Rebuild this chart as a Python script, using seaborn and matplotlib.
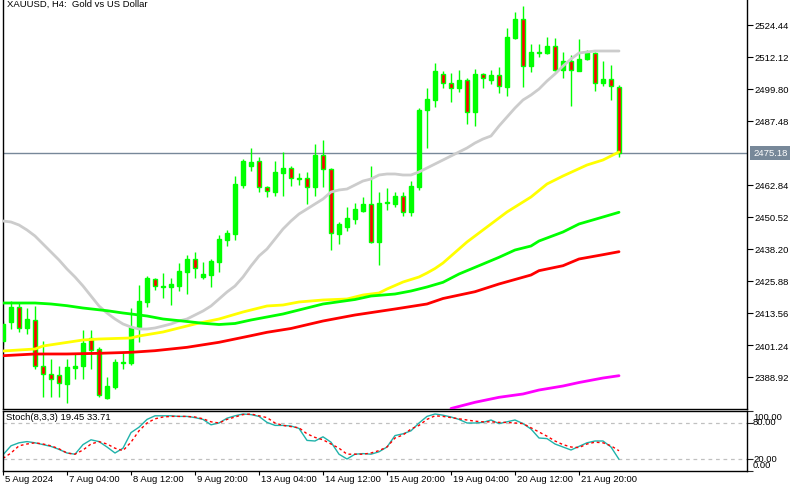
import numpy as np
import pandas as pd
import matplotlib
matplotlib.use("Agg")
import matplotlib.pyplot as plt
import matplotlib.transforms as mtransforms
import seaborn as sns

sns.set_theme(style="white")
plt.rcParams['font.family'] = ['Liberation Sans', 'DejaVu Sans']

# ---------------- data ----------------
x_labels = ["5 Aug 2024", "7 Aug 04:00", "8 Aug 12:00", "9 Aug 20:00", "13 Aug 04:00",
            "14 Aug 12:00", "15 Aug 20:00", "19 Aug 04:00", "20 Aug 12:00", "21 Aug 20:00"]

open_ = [2402.78, 2410.21, 2415.75, 2407.78, 2410.86, 2393.04, 2390.08, 2389.69, 2386.23, 2392.50,
         2393.27, 2403.82, 2399.70, 2380.84, 2384.95, 2394.19, 2394.31, 2407.67, 2417.91, 2426.65,
         2423.69, 2423.69, 2424.07, 2429.46, 2434.35, 2427.54, 2428.19, 2433.31, 2441.67, 2443.98,
         2462.96, 2470.04, 2471.89, 2461.95, 2460.26, 2467.46, 2469.27, 2465.15, 2465.42, 2461.95,
         2474.51, 2469.00, 2443.98, 2446.55, 2449.75, 2452.95, 2455.53, 2441.01, 2455.79, 2455.53,
         2458.49, 2452.56, 2461.95, 2491.83, 2495.68, 2505.46, 2501.99, 2500.19, 2503.27, 2491.06,
         2505.58, 2503.38, 2505.19, 2500.69, 2519.44, 2526.75, 2508.77, 2513.54, 2513.54, 2516.24,
         2507.12, 2510.70, 2506.85, 2511.35, 2513.54, 2501.99, 2503.65, 2500.45]
high = [2410.48, 2418.30, 2417.68, 2415.48, 2416.37, 2402.90, 2395.85, 2393.27, 2395.85, 2397.78,
        2407.13, 2407.13, 2400.47, 2388.80, 2395.85, 2398.43, 2415.48, 2424.45, 2427.69, 2427.04,
        2428.96, 2427.04, 2432.81, 2436.01, 2436.93, 2433.08, 2434.35, 2443.71, 2445.51, 2466.19,
        2472.85, 2477.09, 2473.62, 2462.57, 2472.20, 2475.43, 2470.27, 2467.46, 2467.73, 2478.63,
        2480.17, 2469.39, 2448.71, 2454.25, 2455.79, 2458.10, 2470.04, 2460.26, 2461.57, 2460.03,
        2460.03, 2464.26, 2492.49, 2500.19, 2509.81, 2506.85, 2505.96, 2507.12, 2504.04, 2507.50,
        2505.96, 2507.12, 2508.27, 2523.29, 2529.45, 2531.87, 2517.13, 2517.13, 2519.94, 2519.44,
        2514.16, 2512.89, 2519.05, 2514.93, 2514.16, 2510.46, 2509.16, 2501.34]
low = [2401.24, 2407.40, 2406.24, 2405.47, 2392.00, 2381.34, 2381.10, 2381.10, 2378.79, 2388.15,
       2388.15, 2392.00, 2381.10, 2380.45, 2384.30, 2392.00, 2393.54, 2402.39, 2415.75, 2422.53,
       2419.22, 2416.76, 2421.91, 2420.99, 2427.04, 2426.65, 2423.69, 2429.23, 2439.47, 2441.78,
       2461.57, 2468.35, 2460.03, 2458.34, 2458.72, 2458.72, 2462.34, 2462.84, 2455.53, 2458.72,
       2461.95, 2437.93, 2440.13, 2445.25, 2447.83, 2452.45, 2440.51, 2432.04, 2453.33, 2454.25,
       2450.79, 2451.02, 2461.03, 2477.09, 2492.99, 2500.19, 2494.91, 2498.65, 2486.33, 2485.56,
       2500.19, 2501.73, 2498.26, 2497.11, 2519.05, 2500.69, 2506.46, 2512.24, 2513.28, 2506.73,
       2504.15, 2493.37, 2506.54, 2510.97, 2499.15, 2500.84, 2495.57, 2473.50]
close = [2409.33, 2416.06, 2407.78, 2411.25, 2393.27, 2390.08, 2388.15, 2386.61, 2392.65, 2393.27,
         2402.01, 2399.43, 2381.99, 2385.34, 2394.58, 2394.81, 2408.05, 2418.06, 2427.04, 2423.84,
         2424.07, 2424.73, 2429.61, 2434.35, 2430.89, 2428.58, 2433.58, 2442.05, 2444.36, 2463.23,
         2472.08, 2471.81, 2461.95, 2460.41, 2467.73, 2469.39, 2465.42, 2465.54, 2461.95, 2474.51,
         2469.00, 2444.36, 2447.83, 2450.02, 2453.60, 2455.53, 2441.01, 2455.91, 2456.41, 2458.49,
         2452.56, 2462.57, 2491.72, 2495.95, 2506.73, 2501.99, 2500.30, 2503.27, 2491.06, 2505.58,
         2504.15, 2505.19, 2500.84, 2519.94, 2526.75, 2508.77, 2514.16, 2513.93, 2516.47, 2507.12,
         2510.70, 2507.12, 2511.35, 2513.54, 2501.99, 2503.65, 2500.84, 2475.18]

gray_ma = [2448.98, 2448.60, 2447.44, 2445.52, 2443.21, 2440.13, 2437.05, 2433.97, 2430.50, 2427.42,
           2423.96, 2420.10, 2416.26, 2413.56, 2411.25, 2409.33, 2408.17, 2407.40, 2407.40, 2407.79,
           2408.55, 2409.33, 2410.48, 2411.25, 2412.79, 2414.33, 2416.26, 2418.95, 2421.65, 2423.96,
           2427.42, 2431.66, 2435.51, 2438.20, 2442.05, 2445.90, 2448.98, 2451.68, 2453.60, 2455.53,
           2457.45, 2460.15, 2460.92, 2461.30, 2462.84, 2464.38, 2465.15, 2466.69, 2467.08, 2467.08,
           2466.69, 2466.69, 2467.85, 2469.39, 2470.93, 2472.47, 2474.01, 2475.55, 2477.09, 2479.01,
           2480.55, 2481.71, 2485.55, 2489.02, 2492.49, 2495.57, 2497.49, 2499.80, 2502.88, 2505.58,
           2508.65, 2511.35, 2513.66, 2514.05, 2514.43, 2514.43, 2514.43, 2514.43]

yellow_bar = [0, 4, 5, 10, 12, 16, 17, 20, 24, 27, 30, 33, 35, 37, 40, 43, 45, 47, 48, 50,
              52, 53, 54, 55, 56, 58, 60, 63, 66, 68, 70, 73, 75, 77]
yellow_ma = [2398.93, 2399.70, 2400.85, 2403.17, 2403.55, 2403.94, 2404.70, 2406.25, 2409.33, 2411.25,
             2413.95, 2416.26, 2416.64, 2417.80, 2418.57, 2418.95, 2420.49, 2421.26, 2422.80, 2425.49,
             2427.42, 2428.96, 2430.69, 2432.81, 2435.51, 2440.90, 2445.52, 2452.45, 2458.22, 2463.23,
             2466.31, 2470.54, 2472.47, 2475.55]

green_bar = [0, 4, 6, 8, 10, 13, 15, 18, 20, 23, 25, 27, 29, 31, 33, 35, 37, 40, 44, 46,
             49, 51, 53, 55, 57, 60, 62, 64, 66, 67, 70, 72, 75, 77]
green_ma = [2417.41, 2417.41, 2417.03, 2416.37, 2415.48, 2414.45, 2413.56, 2412.41, 2411.25, 2410.29,
            2409.60, 2409.13, 2409.52, 2410.87, 2412.02, 2413.18, 2414.72, 2417.03, 2418.76, 2420.10,
            2420.87, 2422.03, 2423.57, 2425.38, 2428.57, 2432.42, 2435.00, 2437.81, 2439.35, 2441.28,
            2444.75, 2447.83, 2450.52, 2452.33]

red_bar = [0, 4, 8, 12, 16, 19, 23, 27, 31, 33, 36, 40, 44, 49, 53, 55, 59, 62, 66, 67,
           70, 72, 75, 77]
red_ma = [2397.12, 2397.78, 2397.78, 2398.04, 2398.43, 2399.05, 2400.35, 2402.28, 2404.82, 2406.13,
          2407.60, 2410.48, 2412.79, 2415.10, 2417.03, 2419.14, 2421.76, 2424.73, 2428.19, 2429.85,
          2431.77, 2434.35, 2436.01, 2437.16]

magenta_bar = [56, 59, 62, 65, 67, 70, 72, 75, 77]
magenta_ma = [2376.79, 2379.18, 2381.10, 2382.38, 2383.91, 2385.45, 2386.80, 2388.53, 2389.42]

stoch_k = [27, 42, 47, 49, 47, 44, 41, 36, 30, 28, 44, 52, 49, 40, 30, 38, 64, 73, 86, 92,
           92, 92, 91, 91, 89, 86, 77, 80, 88, 92, 95, 94, 91, 81, 76, 76, 75, 71, 51, 50,
           57, 48, 28, 20, 28, 29, 28, 32, 40, 59, 62, 67, 80, 91, 95, 93, 90, 86, 80, 80,
           81, 85, 79, 82, 85, 79, 70, 55, 54, 45, 40, 35, 41, 47, 50, 50, 40, 19.45]
stoch_d = [21, 30, 42, 45, 47, 45, 42, 37, 30, 28, 35, 45, 49, 45, 38, 34, 48, 67, 80, 87,
           90, 91, 91, 91, 90, 87, 82, 80, 86, 90, 94, 95, 92, 89, 80, 76, 74, 72, 62, 56,
           52, 45, 38, 28, 28, 28, 30, 34, 40, 55, 60, 70, 76, 86, 92, 91, 89, 87, 85, 83,
           82, 82, 81, 81, 80, 79, 72, 65, 58, 50, 44, 40, 39, 45, 48, 47, 42, 33.71]

price_ticks = [2524.44, 2512.12, 2499.80, 2487.48, 2462.84, 2450.52, 2438.20, 2425.88,
               2413.56, 2401.24, 2388.92]
current_price = 2475.18
stoch_levels = [20, 80]
stoch_ticks = [0, 20, 80, 100]

# ---------------- figure ----------------
W, H = 800, 485
fig = plt.figure(figsize=(W / 100, H / 100), dpi=100)
fig.patch.set_facecolor("white")
ax = fig.add_axes([3 / W, 1 - 410 / H, 744 / W, 410 / H])
ax2 = fig.add_axes([3 / W, 1 - 472 / H, 744 / W, 60 / H], sharex=ax)

df = pd.DataFrame({"bar": np.arange(len(open_)), "open": open_, "high": high,
                   "low": low, "close": close})
bull = df["close"] >= df["open"]
body_bottom = np.minimum(df["open"], df["close"])
body_h = np.maximum((df["close"] - df["open"]).abs(), 0.3)

LIME = "#00ff00"
ax.axhline(current_price, color="#778899", lw=1.0, zorder=1)
ax.vlines(df["bar"], df["low"], df["high"], color=LIME, lw=1.0, zorder=2)
ax.bar(df["bar"], body_h, bottom=body_bottom, width=0.55,
       color=np.where(bull, LIME, "#ff0000"), edgecolor=LIME, linewidth=1.0, zorder=3)

def ma(xv, yv, color, lw=2.0):
    sns.lineplot(x=xv, y=yv, ax=ax, color=color, linewidth=lw, estimator=None,
                 sort=False, zorder=4, legend=False)

ma(df["bar"], gray_ma, "#cccccc")
ma(yellow_bar, yellow_ma, "#ffff00")
ma(green_bar, green_ma, "#00ff00")
ma(red_bar, red_ma, "#ff0000")
ma(magenta_bar, magenta_ma, "#ff00ff")

ax.set_xlim(0, 93)
ax.set_ylim(2376.6, 2534.45)
ax.set_xlabel("")
ax.set_ylabel("")
ax.spines["top"].set_visible(False)
for s in ["left", "right", "bottom"]:
    ax.spines[s].set_color("black")
    ax.spines[s].set_linewidth(1.0)
ax.yaxis.tick_right()
ax.set_yticks(price_ticks)
ax.set_yticklabels([f"{v:.2f}" for v in price_ticks])
ax.tick_params(axis="y", which="both", right=True, left=False, length=4, width=0.8,
               direction="out", pad=1.5, labelsize=6.8, colors="black")
ax.tick_params(axis="x", bottom=False, labelbottom=False)
ax.grid(False)

# current price label
trans = mtransforms.blended_transform_factory(ax.transAxes, ax.transData)
ax.text(1.0 + 6 / 744, current_price, f"{current_price:.2f}", transform=trans,
        ha="left", va="center", color="white", fontsize=6.8,
        bbox=dict(boxstyle="square,pad=0.28", fc="#778899", ec="none"), clip_on=False)

ax.text(4 / 744, 1 - 4.5 / 410, "XAUUSD, H4:  Gold vs US Dollar", transform=ax.transAxes,
        ha="left", va="center", fontsize=6.8, color="black")

# ---------------- stochastic panel ----------------
sns.lineplot(x=df["bar"], y=stoch_k, ax=ax2, color="#20b2aa", linewidth=1.0,
             estimator=None, legend=False)
sns.lineplot(x=df["bar"], y=stoch_d, ax=ax2, color="#ff0000", linewidth=1.0,
             estimator=None, legend=False, dashes=False)
ax2.lines[-1].set_linestyle((0, (2, 2)))
for lv in stoch_levels:
    ax2.axhline(lv, color="#c0c0c0", lw=0.9, ls=(0, (3, 3)), zorder=0)
ax2.set_ylim(0, 100)
ax2.set_xlim(0, 93)
ax2.set_xlabel("")
ax2.set_ylabel("")
for s in ax2.spines.values():
    s.set_color("black")
    s.set_linewidth(1.0)
    s.set_visible(True)
ax2.yaxis.tick_right()
ax2.set_yticks(stoch_ticks)
ax2.set_yticklabels([])
ax2.tick_params(axis="y", right=True, left=False, length=4, width=0.8, direction="out")
trans2 = mtransforms.blended_transform_factory(ax2.transAxes, ax2.transData)
for val, ypos in zip(["100.00", "80.00", "20.00", "0.00"], [91.5, 82, 20, 11.5]):
    ax2.text(1.0 + 6 / 744, ypos, val, transform=trans2, ha="left", va="center",
             fontsize=6.8, color="black", clip_on=False)
ax2.text(3 / 744, 91.5, f"Stoch(8,3,3) {stoch_k[-1]:.2f} {stoch_d[-1]:.2f}",
         transform=trans2, ha="left", va="center", fontsize=6.8, color="black")

tick_pos = list(range(0, 8 * len(x_labels), 8))
ax2.set_xticks(tick_pos)
ax2.set_xticklabels(x_labels)
ax2.tick_params(axis="x", bottom=True, length=3, width=0.8, direction="out", pad=-0.5,
                labelsize=6.8, colors="black")
offset = mtransforms.ScaledTranslation(2 / 100, 0, fig.dpi_scale_trans)
for lab in ax2.get_xticklabels():
    lab.set_horizontalalignment("left")
    lab.set_transform(lab.get_transform() + offset)
ax2.grid(False)

fig.savefig("out.png", dpi=100, facecolor="white")
